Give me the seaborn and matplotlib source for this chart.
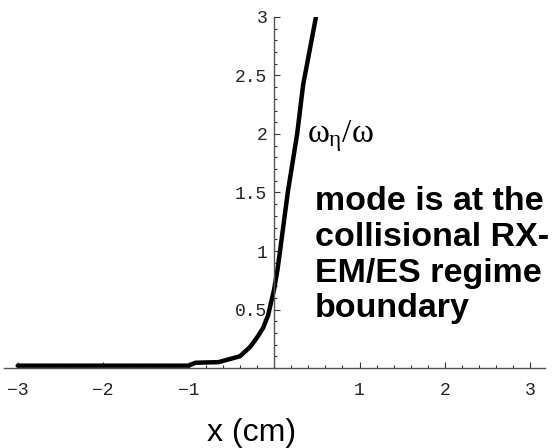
import matplotlib
matplotlib.use("Agg")
import matplotlib.pyplot as plt
import seaborn as sns
import pandas as pd
from matplotlib.ticker import FixedLocator, MultipleLocator

# data
x_cm = [-3.0, -1.0, -0.92, -0.65, -0.5, -0.4, -0.28, -0.2, -0.13, -0.07,
        0.0, 0.04, 0.07, 0.16, 0.27, 0.34, 0.49]
ratio = [0.02, 0.02, 0.045, 0.05, 0.08, 0.10, 0.18, 0.26, 0.34, 0.45,
         0.67, 0.84, 1.0, 1.5, 2.0, 2.42, 3.0]
x_ticks = [-3, -2, -1, 1, 2, 3]
x_tick_labels = ["\u22123", "\u22122", "\u22121", "1", "2", "3"]
y_ticks = [0.5, 1, 1.5, 2, 2.5, 3]
y_tick_labels = ["0.5", "1", "1.5", "2", "2.5", "3"]

sns.set_style("white")
plt.rcParams["mathtext.fontset"] = "custom"
plt.rcParams["mathtext.rm"] = "Liberation Serif"
plt.rcParams["mathtext.it"] = "Liberation Serif"
plt.rcParams["text.color"] = "black"

df = pd.DataFrame({"x": x_cm, "y": ratio})

fig = plt.figure(figsize=(5.58, 4.48), dpi=100)
ax = fig.add_axes([4 / 558, (448 - 368) / 448, (545 - 4) / 558, (368 - 17) / 448])
sns.lineplot(data=df, x="x", y="y", ax=ax, color="black", linewidth=3.2,
             sort=False, estimator=None, solid_capstyle="round")

ax.set_xlim(-3.16, 3.17)
ax.set_ylim(0, 3)
ax.spines["left"].set_position(("data", 0))
ax.spines["right"].set_visible(False)
ax.spines["top"].set_visible(False)
for s in ("left", "bottom"):
    ax.spines[s].set_color("#555555")
    ax.spines[s].set_linewidth(1.0)

ax.xaxis.set_major_locator(FixedLocator(x_ticks))
ax.set_xticklabels(x_tick_labels)
ax.xaxis.set_minor_locator(MultipleLocator(0.2))
ax.yaxis.set_major_locator(FixedLocator(y_ticks))
ax.set_yticklabels(y_tick_labels)
ax.yaxis.set_minor_locator(MultipleLocator(0.1))

ax.tick_params(axis="both", which="both", direction="in", color="#333333",
               width=0.8)
ax.tick_params(which="major", length=4.5)
ax.tick_params(which="minor", length=2.5)
ax.tick_params(axis="x", which="major", pad=10)
ax.tick_params(axis="y", which="major", pad=5)
ax.tick_params(bottom=True, left=True, which="both")
for lab in ax.get_xticklabels() + ax.get_yticklabels():
    lab.set_fontfamily("Liberation Mono")
    lab.set_fontsize(13)
    lab.set_color("#222222")

ax.set_xlabel("")
ax.set_ylabel("")

fig.text(307 / 558, 1 - 142 / 448, r"$\omega_\eta/\omega$", fontsize=24,
         ha="left", va="baseline", color="black")
fig.text(315 / 558, 1 - 186 / 448,
         "mode is at the\ncollisional RX-\nEM/ES regime\nboundary",
         fontsize=24.5, fontweight="bold", family="Liberation Sans",
         ha="left", va="top", linespacing=1.2, color="black")
fig.text(252 / 558, 1 - 441 / 448, "x (cm)", fontsize=23,
         family="Liberation Sans", ha="center", va="baseline", color="black")

fig.savefig("out.png", dpi=100)
